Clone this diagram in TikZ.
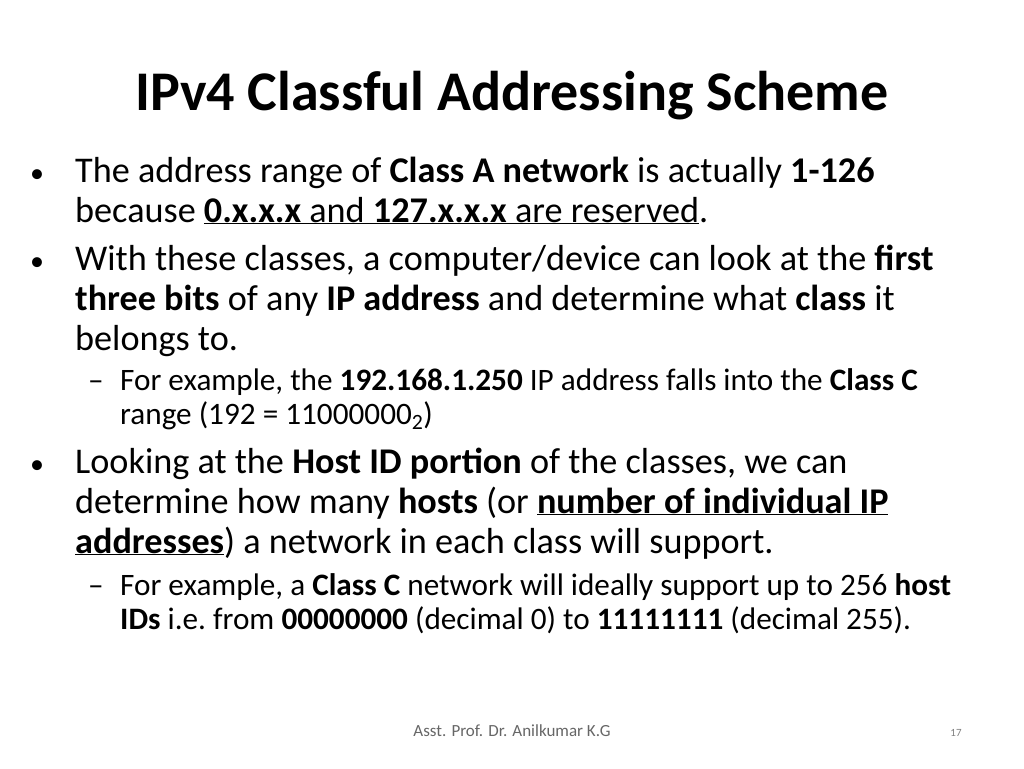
\documentclass[tikz,border=0pt]{standalone}
\usepackage{fontspec}
\setmainfont{Carlito}
\begin{document}
\begin{tikzpicture}[x=1pt,y=-1pt,
  L/.style={anchor=base west,inner sep=0pt,font=\fontsize{36.2}{40}\selectfont},
  B/.style={anchor=base west,inner sep=0pt,font=\fontsize{28}{32}\selectfont},
  S/.style={anchor=base west,inner sep=0pt,font=\fontsize{31.2}{34}\selectfont}]
\useasboundingbox (0,0) rectangle (1024,768);
\node[anchor=base,inner sep=0pt,font=\fontsize{56}{60}\selectfont\bfseries] (title) at (512,110) {IPv4 Classful Addressing Scheme};
\node[B] (b1) at (30,182) {•};
\node[L] (l1) at (75,182) {The address range of \textbf{Class A network} is actually \textbf{1-126}};
\node[L] (l2) at (75,222) {because \underline{\textbf{0.x.x.x} and \textbf{127.x.x.x} are reserved}.};
\node[B] (b2) at (30,270) {•};
\node[L] (l3) at (75,270) {With these classes, a computer/device can look at the \textbf{first}};
\node[L] (l4) at (75,310) {\textbf{three bits} of any \textbf{IP address} and determine what \textbf{class} it};
\node[L] (l5) at (75,350) {belongs to.};
\node[S] (d1) at (88,390) {–};
\node[S] (s1) at (120,390) {For example, the \textbf{192.168.1.250} IP address falls into the \textbf{Class C}};
\node[S] (s2) at (120,424) {range (192 = 11000000\textsubscript{2})};
\node[B] (b3) at (30,473) {•};
\node[L] (l6) at (75,473) {Looking at the \textbf{Host ID portion} of the classes, we can};
\node[L] (l7) at (75,513) {determine how many \textbf{hosts} (or \underline{\textbf{number of individual IP}}};
\node[L] (l8) at (75,553) {\underline{\textbf{addresses}}) a network in each class will support.};
\node[S] (d2) at (88,595) {–};
\node[S] (s3) at (120,595) {For example, a \textbf{Class C} network will ideally support up to 256 \textbf{host}};
\node[S] (s4) at (120,629) {\textbf{IDs} i.e.\ from \textbf{00000000} (decimal 0) to \textbf{11111111} (decimal 255).};
\node[anchor=base,inner sep=0pt,font=\fontsize{17}{20}\selectfont,text=black!60] (f) at (512,736) {Asst. Prof. Dr. Anilkumar K.G};
\node[anchor=base,inner sep=0pt,font=\fontsize{11}{12}\selectfont,text=black!50] (n) at (956,736) {17};
\end{tikzpicture}
\end{document}
